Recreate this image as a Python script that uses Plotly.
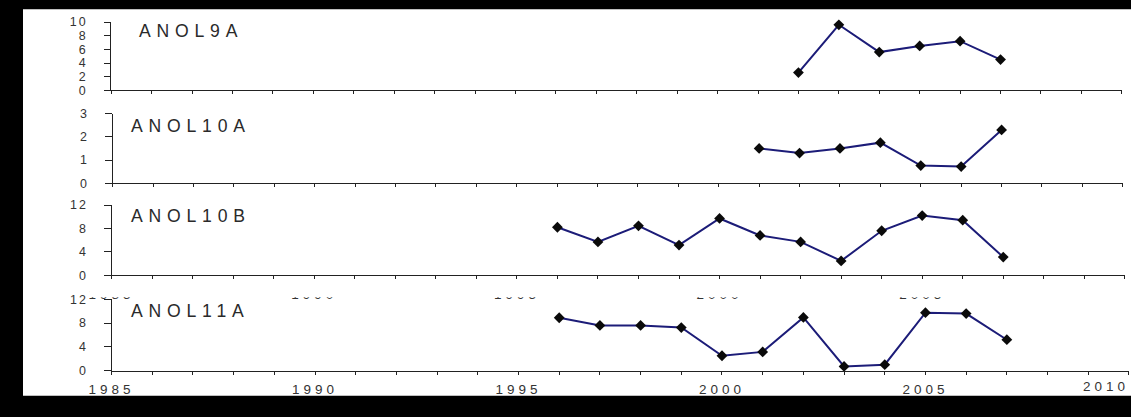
import plotly.graph_objects as go

# Annual series for each locus
years_9a = [2002, 2003, 2004, 2005, 2006, 2007]
vals_9a = [2.6, 9.6, 5.6, 6.5, 7.2, 4.5]

years_10a = [2001, 2002, 2003, 2004, 2005, 2006, 2007]
vals_10a = [1.5, 1.3, 1.5, 1.75, 0.76, 0.72, 2.3]

years_10b = list(range(1996, 2008))
vals_10b = [8.2, 5.7, 8.45, 5.15, 9.7, 6.8, 5.7, 2.45, 7.6, 10.2, 9.4, 3.1]

years_11a = list(range(1996, 2008))
vals_11a = [8.9, 7.6, 7.6, 7.25, 2.5, 3.15, 8.95, 0.7, 1.0, 9.75, 9.6, 5.2]

panel_names = ["ANOL9A", "ANOL10A", "ANOL10B", "ANOL11A"]
y_maxes = [10, 3, 12, 12]
y_ticks = [[0, 2, 4, 6, 8, 10], [0, 1, 2, 3], [0, 4, 8, 12], [0, 4, 8, 12]]
x_years = list(range(1985, 2011))
x_labels = [str(y) if y % 5 == 0 else "" for y in x_years]
last_year_label = "2010"

W, H = 1131, 417
# layout positions below are given on the page canvas; the figure sits on
# it with this scale and offset
SCALE = 0.963
OFF_X, OFF_Y = 20.9, 7.7

def fx(px):
    return min(max((px - OFF_X) / SCALE / W, 0), 1)

def fy(py):
    return min(max(1 - (py - OFF_Y) / SCALE / H, 0), 1)

def sz(v):
    return v / SCALE

# panel frames in canvas pixels: (left, right, zero line, top line)
frames = [
    (107.7, 1101, 90.7, 22.7),
    (109, 1102, 183.3, 114),
    (108, 1104, 275, 205),
    (108, 1108, 370, 299),
]
label_pos = [(133, 32), (125, 126), (125, 216), (125, 311)]

series = [(years_9a, vals_9a), (years_10a, vals_10a),
          (years_10b, vals_10b), (years_11a, vals_11a)]

fig = go.Figure()
layout = dict(
    width=W, height=H,
    margin=dict(l=0, r=0, t=0, b=0),
    paper_bgcolor="black",
    plot_bgcolor="white",
    showlegend=False,
    font=dict(family="Liberation Sans, Arial, sans-serif", color="#333333"),
)

spaced = "<span style='letter-spacing:4px'>{}</span>"
ytick_fmt = "<span style='letter-spacing:2px'>{}</span>"

for i, ((xs, ys), (l, r, z, t), ymax, yt) in enumerate(zip(series, frames, y_maxes, y_ticks)):
    n = i + 1
    xa = "x" if n == 1 else f"x{n}"
    ya = "y" if n == 1 else f"y{n}"
    fig.add_trace(go.Scatter(
        x=xs, y=ys, xaxis=xa, yaxis=ya, mode="lines+markers",
        line=dict(color="#1c1c78", width=2),
        marker=dict(symbol="diamond", size=sz(8), color="#0a0a0a"),
        cliponaxis=False,
    ))
    show_lbl = n >= 3
    layout["xaxis" if n == 1 else f"xaxis{n}"] = dict(
        domain=[fx(l), fx(r)], range=[1985, 2010], anchor=ya,
        showgrid=False, zeroline=False, showline=True,
        linecolor="#222222", linewidth=1,
        tickmode="array", tickvals=x_years,
        ticktext=[spaced.format(s) if s else "" for s in x_labels],
        ticks="outside", ticklen=sz(3), tickcolor="#222222", tickwidth=1,
        showticklabels=show_lbl, tickfont=dict(size=sz(13), color="#333333"),
        ticklabelstandoff=3,
    )
    # companion axis so the year ticks cross the axis line
    layout[f"xaxis{n + 4}"] = dict(
        domain=[fx(l), fx(r)], range=[1985, 2010], anchor=ya, overlaying=xa,
        showgrid=False, zeroline=False, showline=False,
        tickmode="array", tickvals=x_years,
        ticks="inside", ticklen=sz(3), tickcolor="#222222", tickwidth=1,
        showticklabels=False,
    )
    layout["yaxis" if n == 1 else f"yaxis{n}"] = dict(
        domain=[fy(z), fy(t)], range=[0, ymax], anchor=xa,
        showgrid=False, zeroline=False, showline=True,
        linecolor="#222222", linewidth=1,
        tickmode="array", tickvals=yt,
        ticktext=[ytick_fmt.format(v) for v in yt],
        ticks="outside", ticklen=sz(6), tickcolor="#222222", tickwidth=1,
        tickfont=dict(size=sz(12), color="#333333"),
        ticklabelstandoff=14,
    )

fig.update_layout(**layout)

annotations = []
for name, (px, py) in zip(panel_names, label_pos):
    annotations.append(dict(
        text=f"<span style='letter-spacing:5.8px'>{name}</span>",
        xref="paper", yref="paper", x=fx(px), y=fy(py),
        xanchor="left", yanchor="middle", showarrow=False,
        font=dict(size=17.6, color="#2a2a2a"),
    ))
# end-of-axis year on the bottom panel, kept inside the figure edge
bottom_zero = frames[3][2]
annotations.append(dict(
    text=spaced.format(last_year_label),
    xref="paper", yref="paper", x=1, y=fy(bottom_zero + 6),
    xanchor="right", yanchor="top", showarrow=False,
    font=dict(size=sz(13), color="#333333"),
))
fig.update_layout(annotations=annotations)

shapes = [
    # white page inside the black frame
    dict(type="rect", xref="paper", yref="paper", layer="below",
         x0=fx(14), x1=fx(1129), y0=fy(395), y1=fy(10),
         fillcolor="white", line=dict(width=0)),
    # bottom panel's page edge sits over the third panel's year labels
    dict(type="rect", xref="paper", yref="paper", layer="above",
         x0=fx(86), x1=fx(1129), y0=fy(297), y1=fy(288.5),
         fillcolor="white", line=dict(width=0)),
]
fig.update_layout(shapes=shapes)

fig.write_html(
    "out.html",
    post_script="document.body.style.margin='0';"
                "document.body.style.background='black';"
                "document.body.style.overflow='hidden';",
)
